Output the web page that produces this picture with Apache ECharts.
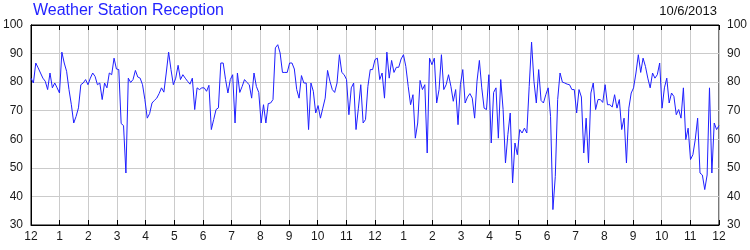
<!DOCTYPE html>
<html><head><meta charset="utf-8">
<script src="https://cdn.jsdelivr.net/npm/echarts@6/dist/echarts.min.js"></script>
<style>html,body{margin:0;padding:0;background:#fff}#c{width:750px;height:250px}</style>
</head><body><div id="c"></div>
<script>
const titleText = 'Weather Station Reception';
const dateText = '10/6/2013';
const monthLabels = ['12','1','2','3','4','5','6','7','8','9','10','11','12','1','2','3','4','5','6','7','8','9','10','11','12'];
const yMin = 30, yMax = 100, yStep = 10;

const part1 = [81.4,79.7,86.7,85,83.2,81.4,80.3,77.4,83.2,78,79.7,78,76.2,90.5,86.7,83.8,77.4,72.1,65.7,68,71,79.1,79.7,80.9,79.1,81.4,83.2,82,79.1,79.7,73.9,79.7,78,83.2,82.6,88.4,84.6,84.4,65.5,64.8,48.2,81.4,79.9,80.9,84.1,81.8,81.4,79.1,73.9,67.4];
const part2 = [69,72.7,73.6,74.4,76,78,76.5,83.2,90.5,84.4,79.1,81.4,85.9,80.9,82.6,81.4,80.3,79.3,81.4,70.4,78,77.4,78,78,76.8,78.9,63.4,66.9,70.4,71,86.7,86.7,80.9,76.2,80.9,82.6,65.7,83.2,76.4,78.5,80.9,79.9,79.1,74.4,83.2,78.5,76.4,65.7,72.1,65.7];
const part3 = [72.5,72.7,73.9,92,93.1,90.2,83.4,83.4,83.4,86.7,86.7,84.6,77.4,74.4,82.3,79.7,79.7,63.4,79.7,76.8,69.2,71.8,67.4,70.9,74.4,84.1,80.3,77.4,76.4,79.7,89.6,83.4,82.6,80.9,68.6,78,79.7,63.4,70.9,79.1,65.7,66.9,78.5,84.4,84.4,87.9,88.4,80.9,83.2,74.4,90.5];
const part4 = [81.4,87.6,83.4,85.2,85.2,88.1,89.6,85.5,78.5,72.1,75.6,60.4,65.7,80.6,77.4,79.1,55.2,88.4,86.1,88.4,72.7,77.4,89.6,77.4,79.1,82.6,78.5,73.3,77.4,65.1,79.1,84.4,72.7,74.8,76,74.4,67.4,80.3,87.6,78,70.9,70.4,82.6,58.7,76.4,78,60.4,80.9,70.4,51.7,61.6,69.2];
const part5 = [44.7,58.7,54.6,63.4,62.2,63.9,62.2,78.5,94,80.3,72.7,84.4,73.6,72.7,75.6,78,68,35.4,47,73.9,83.2,80,79.7,79.3,79.1,77.4,77.4,69.2,77.4,74.8,55.2,67.4,51.7,76.2,79.7,70.4,73.9,73.9,72.9,79.1,72.1,72.1,71.3,75.6,70.9,73.9];
const part6 = [63.4,67.4,51.7,70.9,76.2,78,83.2,89.6,83.4,88.4,85.5,81.4,78,83.2,81.4,82.6,86.7,70.9,78,81.4,72.7,76.2,75,68.6,70.4,67.4,78,59.9,63.9,52.9,54.6,59.9,67.4,48.2,47.5,42.4,47.5,78,48.2,65.7,63.4,64.8];

const reception = [].concat(part1, part2, part3, part4, part5, part6);
const spanMonths = monthLabels.length - 1;
// samples are evenly spaced in time over the 24-month span
const seriesData = reception.map((v, i) => [i * spanMonths / (reception.length - 1), v]);

const font = 'Liberation Sans, Arial, sans-serif';
const chart = echarts.init(document.getElementById('c'), null, {renderer: 'canvas'});
const gridColor = '#cbcbcb';
chart.setOption({
  animation: false,
  backgroundColor: '#fff',
  title: [
    {text: titleText, left: 33, top: 3, padding: 0, textStyle: {fontFamily: font, fontSize: 16, fontWeight: 'normal', color: '#2323ff'}},
    {text: dateText, right: 33, top: 5, padding: 0, textStyle: {fontFamily: font, fontSize: 13, fontWeight: 'normal', color: '#111'}}
  ],
  grid: {left: 30, right: 30, top: 25, bottom: 25, show: true, borderColor: '#000', borderWidth: 1},
  xAxis: [
    {type: 'value', position: 'bottom', min: 0, max: spanMonths, interval: 1,
     axisLine: {show: true, lineStyle: {color: '#000', width: 1}},
     axisTick: {show: true, inside: true, length: 5, lineStyle: {color: '#000'}},
     splitLine: {show: true, lineStyle: {color: gridColor, width: 1}},
     axisLabel: {margin: 6, fontFamily: font, fontSize: 12, color: '#1a1a1a',
       formatter: v => monthLabels[Math.round(v)]}},
    {type: 'value', position: 'top', min: 0, max: spanMonths, interval: 1,
     axisLine: {show: true, lineStyle: {color: '#000', width: 1}},
     axisTick: {show: true, inside: true, length: 5, lineStyle: {color: '#000'}},
     splitLine: {show: false}, axisLabel: {show: false}}
  ],
  yAxis: [
    {type: 'value', position: 'left', min: yMin, max: yMax, interval: yStep,
     axisLine: {show: true, lineStyle: {color: '#000'}}, axisTick: {show: false},
     splitLine: {show: true, lineStyle: {color: gridColor, width: 1}},
     axisLabel: {margin: 8, fontFamily: font, fontSize: 12, color: '#1a1a1a'}},
    {type: 'value', position: 'right', min: yMin, max: yMax, interval: yStep,
     axisLine: {show: true, lineStyle: {color: '#000'}}, axisTick: {show: false},
     splitLine: {show: false},
     axisLabel: {margin: 8, fontFamily: font, fontSize: 12, color: '#1a1a1a'}}
  ],
  series: [{
    type: 'line', xAxisIndex: 0, yAxisIndex: 0, data: seriesData,
    showSymbol: false, symbol: 'none',
    lineStyle: {color: '#1f1fff', width: 1}
  }]
});
</script></body></html>
